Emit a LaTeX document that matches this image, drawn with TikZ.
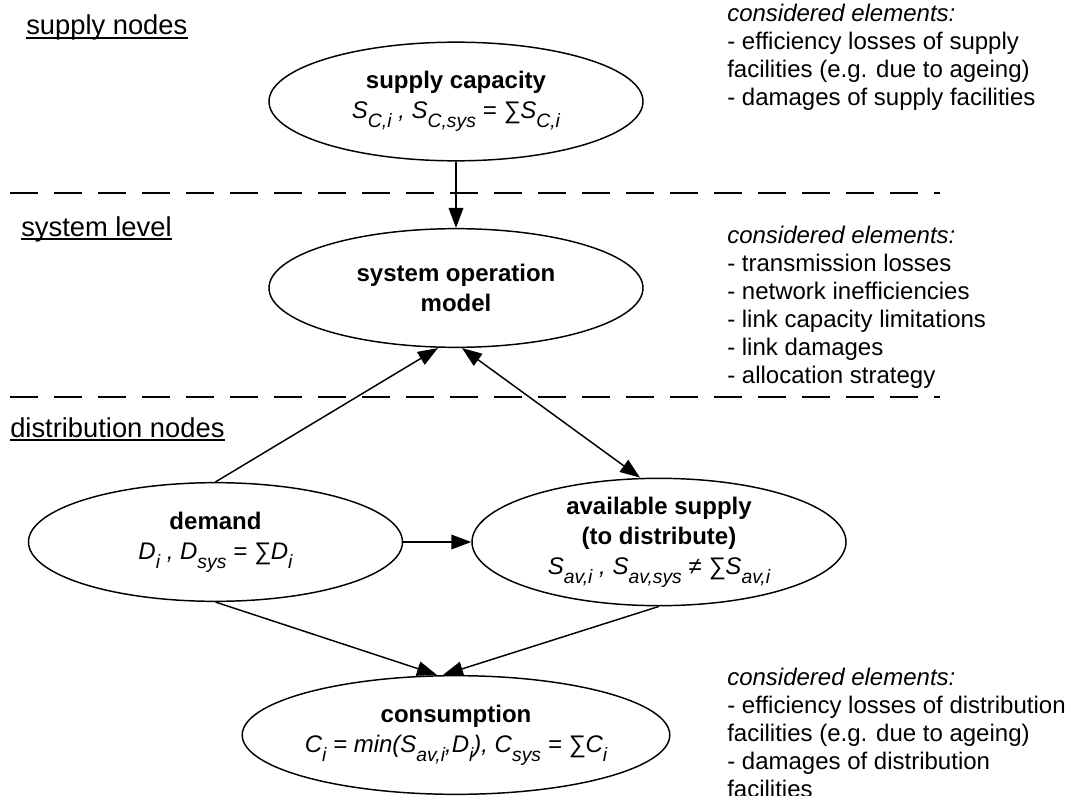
\documentclass[tikz,border=0pt]{standalone}
\usepackage{fontspec}
\setmainfont{Liberation Sans}
\usetikzlibrary{arrows.meta,calc,shapes.geometric}
\newcommand\sbs[1]{\raisebox{-0.36em}{\fontsize{14.5}{15}\selectfont #1}}
\begin{document}
\begin{tikzpicture}[x=0.75pt,y=-0.75pt,
  ell/.style={ellipse,draw,line width=1.1pt,minimum width=280.5pt,minimum height=89pt,
    inner sep=0pt,align=center,font=\fontsize{18}{22.5}\selectfont},
  arr/.style={line width=1.1pt,-{Triangle[length=15pt,width=11pt]}},
  arrboth/.style={line width=1.1pt,{Triangle[length=15pt,width=11pt]}-{Triangle[length=15pt,width=11pt]}},
  sepline/.style={line width=1.5pt,dash pattern=on 21pt off 12pt},
  lvl/.style={anchor=base west,inner sep=0pt,font=\fontsize{20.5}{24}\selectfont},
  note/.style={anchor=north west,inner sep=0pt,align=left,font=\fontsize{18}{21}\selectfont},
  uline/.style={line width=1.2pt}]

\useasboundingbox (0,0) rectangle (1068,796);

% level labels
\node[lvl] (lsup) at (26,35) {supply nodes};
\node[lvl] (lsys) at (21,236) {system level};
\node[lvl] (ldis) at (10,437) {distribution nodes};
\draw[uline] ($(lsup.base west)+(0,3)$) -- ($(lsup.base east)+(0,3)$);
\draw[uline] ($(lsys.base west)+(0,3)$) -- ($(lsys.base east)+(0,3)$);
\draw[uline] ($(ldis.base west)+(0,3)$) -- ($(ldis.base east)+(0,3)$);

% separators
\coordinate (s1a) at (10,193);
\coordinate (s1b) at (940,193);
\coordinate (s2a) at (10,397);
\coordinate (s2b) at (940,397);
\draw[sepline] (s1a) -- (s1b);
\draw[sepline] (s2a) -- (s2b);

% nodes
\node[ell] (supply) at (456,101.5) {\textbf{supply capacity}\\
  \textit{S\sbs{C,i} , S\sbs{C,sys} = ∑S\sbs{C,i}}};
\node[ell] (system) at (456,288) {\textbf{system operation}\\ \textbf{model}};
\node[ell] (demand) at (215.5,542) {\textbf{demand}\\
  \textit{D\sbs{i} , D\sbs{sys} = ∑D\sbs{i}}};
\node[ell] (avail) at (659,542) {\textbf{available supply}\\ \textbf{(to distribute)}\\
  \textit{S\sbs{av,i} , S\sbs{av,sys} ≠ ∑S\sbs{av,i}}};
\node[ell] (cons) at (456,735) {\textbf{consumption}\\
  \textit{C\sbs{i} = min(S\sbs{av,i},D\sbs{i}), C\sbs{sys} = ∑C\sbs{i}}};

% notes
\node[note] (n1) at (727,4) {\textit{considered elements:}\\- efficiency losses of supply\\facilities (e.g. due to ageing)\\- damages of supply facilities};
\node[note] (n2) at (727,226) {\textit{considered elements:}\\- transmission losses\\- network inefficiencies\\- link capacity limitations\\- link damages\\- allocation strategy};
\node[note] (n3) at (727,668) {\textit{considered elements:}\\- efficiency losses of distribution\\facilities (e.g. due to ageing)\\- damages of distribution\\facilities};

% connectors
\draw[arr] (supply) -- (system);
\draw[arr] (demand.north) -- ($(system.south)+(-18,0)$);
\draw[arrboth] ($(system.south)+(6,0)$) -- ($(avail.north)+(-19,0)$);
\draw[arr] (demand) -- (avail);
\draw[arr] (demand.south) -- ($(cons.north)+(-19,0)$);
\draw[arr] (avail.south) -- ($(cons.north)+(-13,0)$);
\end{tikzpicture}
\end{document}
